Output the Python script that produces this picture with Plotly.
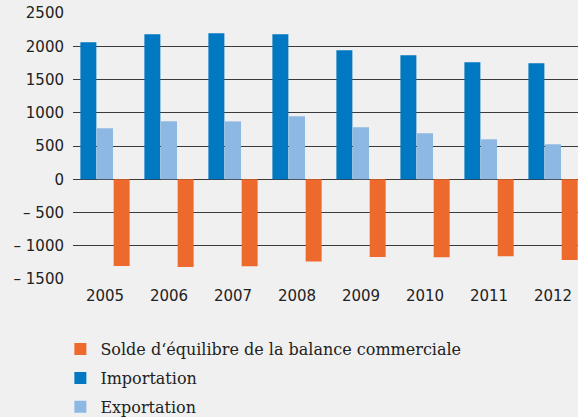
import plotly.graph_objects as go

years = ["2005", "2006", "2007", "2008", "2009", "2010", "2011", "2012"]
importation = [2060, 2180, 2195, 2180, 1940, 1865, 1760, 1745]
exportation = [767, 872, 870, 947, 782, 692, 601, 526]
solde = [-1303, -1318, -1310, -1235, -1170, -1173, -1158, -1213]

tick_vals = [-1500, -1000, -500, 0, 500, 1000, 1500, 2000, 2500]
tick_text = ["\u2013 1500", "\u2013 1000", "\u2013 500", "0", "500", "1000", "1500", "2000", "2500"]

fig = go.Figure()
fig.add_trace(go.Bar(x=years, y=importation, name="Importation",
                     marker=dict(color="#0079C2", line=dict(width=0)),
                     legendgroup="b", legendrank=2))
fig.add_trace(go.Bar(x=years, y=exportation, name="Exportation",
                     marker=dict(color="#8DB8E3", line=dict(width=0)),
                     legendgroup="c", legendrank=3))
fig.add_trace(go.Bar(x=years, y=solde, name="Solde d\u2018\u00e9quilibre de la balance commerciale",
                     marker=dict(color="#EE6A2C", line=dict(width=0)),
                     legendgroup="a", legendrank=1))

fig.update_layout(
    width=578, height=417,
    margin=dict(l=73, r=0, t=13, b=138, autoexpand=False),
    paper_bgcolor="#F0F0F0", plot_bgcolor="#F0F0F0",
    barmode="group", bargap=0.22, bargroupgap=0.04,
    showlegend=True,
    legend=dict(x=-0.025, y=-0.2, xanchor="left", yanchor="top",
                bgcolor="rgba(0,0,0,0)", traceorder="grouped",
                font=dict(family="DejaVu Serif", size=16, color="#222222"),
                itemwidth=30, tracegroupgap=5),
    xaxis=dict(range=[-0.5, 7.39], showgrid=False, zeroline=False,
               showline=False, ticks="", ticklabelstandoff=6,
               tickfont=dict(family="DejaVu Sans", size=15, color="#222222")),
    yaxis=dict(range=[-1500, 2500], tickvals=tick_vals, ticktext=tick_text,
               showgrid=True, gridcolor="#3a3a3a", gridwidth=1,
               zeroline=True, zerolinecolor="#3a3a3a", zerolinewidth=1,
               showline=False, ticks="", ticklabelstandoff=8,
               tickfont=dict(family="DejaVu Sans", size=15, color="#222222")),
    font=dict(family="DejaVu Sans"),
)

fig.write_html("out.html")
